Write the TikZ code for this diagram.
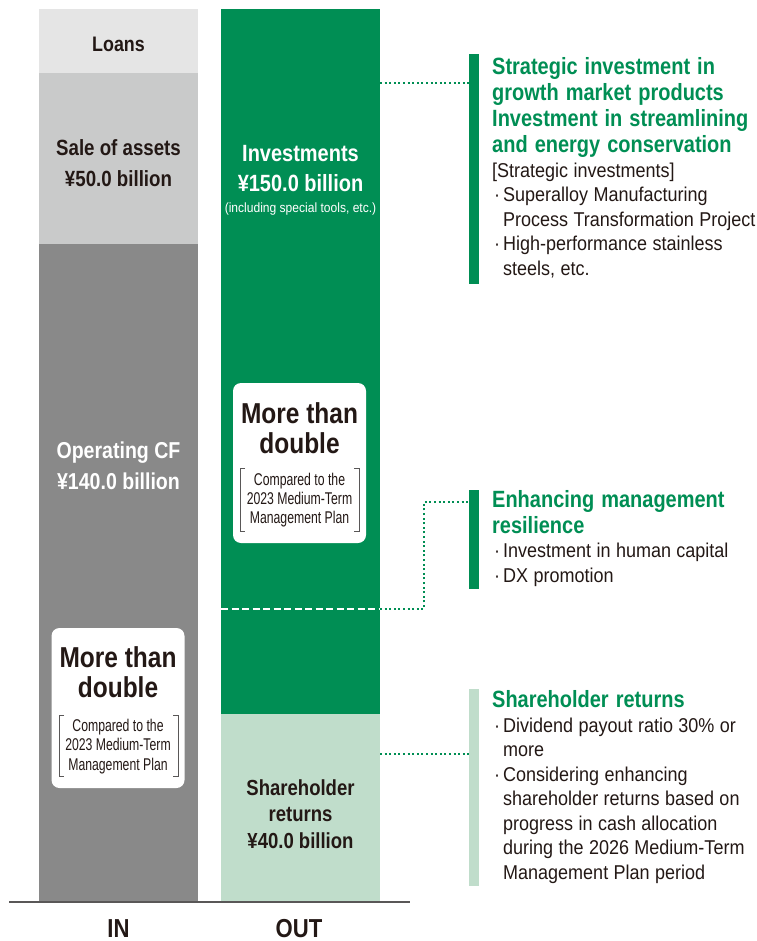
\documentclass[tikz,border=0pt]{standalone}
\usepackage{fontspec}
\setmainfont[FakeStretch=0.9]{Liberation Sans}
\newfontfamily\bfam[FakeStretch=0.85]{Liberation Sans}
\newfontfamily\condfont[FakeStretch=0.72]{Liberation Sans}
\usetikzlibrary{calc}
\setlength{\parindent}{0pt}
\setlength{\parskip}{0pt}
\definecolor{grn}{RGB}{0,142,84}
\definecolor{lgrn}{RGB}{192,221,203}
\definecolor{gLoan}{RGB}{229,229,229}
\definecolor{gSale}{RGB}{201,202,202}
\definecolor{gOp}{RGB}{137,137,137}
\definecolor{ink}{RGB}{35,24,21}
\definecolor{axisc}{RGB}{89,87,87}
\newcommand\myHead{\bfam\bfseries\fontsize{23.5}{26}\selectfont\spaceskip=0.3em\relax\color{grn}}
\newcommand\myBody{\normalfont\fontsize{20}{24.5}\selectfont\spaceskip=0.27em\relax\color{ink}}
\newcommand\bul{\makebox[11pt][l]{\hspace{2pt}·}}
\newcommand\ind{\hspace*{11pt}}
\begin{document}
\begin{tikzpicture}[x=1pt,y=-1pt,
  bar/.style={rectangle, draw=none, inner sep=0pt, minimum width=159pt, anchor=north west},
  sbar/.style={rectangle, draw=none, inner sep=0pt, minimum width=10pt, anchor=north west},
  lbl/.style={inner sep=0pt, align=center},
  mbox/.style={rectangle, fill=white, rounded corners=8pt, minimum width=133pt, minimum height=160pt, inner sep=0pt},
  blk/.style={anchor=north west, inner sep=0pt, text width=270pt, align=left, text=ink},
  dotg/.style={draw=grn, line width=2pt, dash pattern=on 2pt off 2.6pt},
  dashw/.style={draw=white, line width=2pt, dash pattern=on 7pt off 3.5pt},
  brk/.style={draw=axisc, line width=1pt},
  axisline/.style={draw=axisc, line width=1.5pt}]
\useasboundingbox (0,0) rectangle (756,941);

% columns
\node[bar, fill=gLoan, minimum height=64pt] (loans) at (39,9) {};
\node[bar, fill=gSale, minimum height=171pt] (sale) at (39,73) {};
\node[bar, fill=gOp, minimum height=658pt] (opcf) at (39,244) {};
\node[bar, fill=grn, minimum height=705pt] (inv) at (221,9) {};
\node[bar, fill=lgrn, minimum height=188pt] (shr) at (221,714) {};

% column labels
\node[lbl, font=\bfam\bfseries\fontsize{21}{25}\selectfont, text=ink, anchor=base] (tLoans) at (118.5,51.7) {Loans};
\node[lbl, font=\bfam\bfseries\fontsize{22}{31}\selectfont, text=ink, anchor=north] (tSale) at (118.5,139.2) {Sale of assets\\¥50.0 billion};
\node[lbl, font=\bfam\bfseries\fontsize{23}{31}\selectfont, text=white, anchor=north] (tOp) at (118.5,442) {Operating CF\\¥140.0 billion};
\node[lbl, font=\bfam\bfseries\fontsize{23.5}{30}\selectfont, text=white, anchor=north] (tInv) at (300.5,145) {Investments\\¥150.0 billion};
\node[lbl, font=\normalfont\fontsize{13.4}{16}\selectfont, text=white, anchor=base] (tInvNote) at (300.5,213) {(including special tools, etc.)};
\node[lbl, font=\bfam\bfseries\fontsize{21.8}{26.5}\selectfont, text=ink, anchor=north] (tShr) at (300.5,779) {Shareholder\\returns\\¥40.0 billion};

% "More than double" boxes
\node[mbox] (mb2) at (299.5,463) {};
\node[mbox] (mb1) at (118,708) {};
\node[lbl, font=\bfam\bfseries\fontsize{28.8}{30.5}\selectfont, text=ink, anchor=north] (md2) at (299.5,402) {More than\\double};
\node[lbl, font=\condfont\fontsize{17}{19.3}\selectfont, text=ink, anchor=north] (cp2) at (299.5,472.6) {Compared to the\\2023 Medium-Term\\Management Plan};
\node[lbl, font=\bfam\bfseries\fontsize{28.8}{30.5}\selectfont, text=ink, anchor=north] (md1) at (118,646) {More than\\double};
\node[lbl, font=\condfont\fontsize{17}{19.3}\selectfont, text=ink, anchor=north] (cp1) at (118,719) {Compared to the\\2023 Medium-Term\\Management Plan};
\draw[brk] (245,468) -- (240,468) -- (240,531) -- (245,531);
\draw[brk] (354,468) -- (359,468) -- (359,531) -- (354,531);
\draw[brk] (64,715) -- (59,715) -- (59,776) -- (64,776);
\draw[brk] (173,715) -- (178,715) -- (178,776) -- (173,776);

% axis
\coordinate (axL) at (9,902);
\coordinate (axR) at (410,902);
\draw[axisline] (axL) -- (axR);
\node[lbl, font=\bfam\bfseries\fontsize{26}{26}\selectfont, text=ink, anchor=base] (tIn) at (118.5,937) {IN};
\node[lbl, font=\bfam\bfseries\fontsize{26}{26}\selectfont, text=ink, anchor=base] (tOut) at (299,937) {OUT};

% side bars
\node[sbar, fill=grn, minimum height=230pt] (sb1) at (469,54) {};
\node[sbar, fill=grn, minimum height=99pt] (sb2) at (469,490) {};
\node[sbar, fill=lgrn, minimum height=197pt] (sb3) at (469,689) {};

% connectors
\coordinate (c1) at (380,83);
\draw[dotg] (c1) -- (c1 -| sb1.west);
\coordinate (dL) at (221,609);
\coordinate (dR) at (380,609);
\draw[dashw] (dL) -- (dR);
\coordinate (e2) at (469,502);
\draw[dotg] (dR) -- (424,609) -- (424,502) -- (e2);
\coordinate (c3) at (380,754);
\draw[dotg] (c3) -- (c3 -| sb3.west);

% side texts
\node[blk] (txt1) at (492,57.3) {%
{\myHead Strategic investment in\\growth market products\\Investment in streamlining\\and energy conservation\par}%
{\myBody [Strategic investments]\\\bul Superalloy Manufacturing\\\ind Process Transformation Project\\\bul High-performance stainless\\\ind steels, etc.\par}};
\node[blk] (txt2) at (492,489.8) {%
{\myHead Enhancing management\\resilience\par}%
{\myBody \bul Investment in human capital\\\bul DX promotion\par}};
\node[blk] (txt3) at (492,690.3) {%
{\myHead Shareholder returns\par}%
{\myBody \bul Dividend payout ratio 30\% or\\\ind more\\\bul Considering enhancing\\\ind shareholder returns based on\\\ind progress in cash allocation\\\ind during the 2026 Medium-Term\\\ind Management Plan period\par}};
\end{tikzpicture}
\end{document}
